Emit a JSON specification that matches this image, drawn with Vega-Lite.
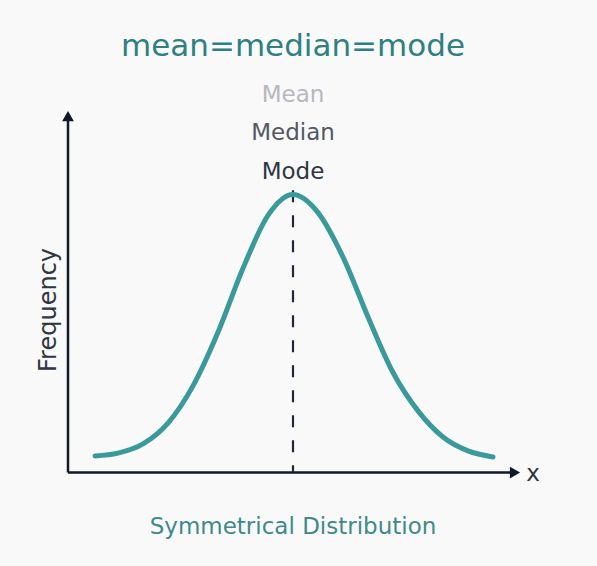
{
  "$schema": "https://vega.github.io/schema/vega-lite/v6.json",
  "width": 597,
  "height": 566,
  "autosize": {"type": "fit", "contains": "padding"},
  "padding": 0,
  "background": "#f9f9f9",
  "config": {"view": {"stroke": null}},
  "datasets": {
    "curve": [
      {"x": -3.96, "f": 0.06},
      {"x": -3.5, "f": 0.07},
      {"x": -3.0, "f": 0.103},
      {"x": -2.5, "f": 0.178},
      {"x": -2.0, "f": 0.312},
      {"x": -1.5, "f": 0.505},
      {"x": -1.0, "f": 0.735},
      {"x": -0.5, "f": 0.925},
      {"x": 0, "f": 1.0},
      {"x": 0.5, "f": 0.935},
      {"x": 1.0, "f": 0.775},
      {"x": 1.5, "f": 0.56},
      {"x": 2.0, "f": 0.36},
      {"x": 2.5, "f": 0.222},
      {"x": 3.0, "f": 0.128},
      {"x": 3.5, "f": 0.078},
      {"x": 4.0, "f": 0.056}
    ],
    "center": [{"x": 0, "top": 1.016, "bottom": 0}],
    "yaxis": [{"x": -4.5, "f": 0, "f2": 1.265}],
    "xaxis": [{"x": -4.5, "x2": 4.34, "f": 0}],
    "yarrow": [{"x": -4.5, "f": 1.282}],
    "xarrow": [{"x": 4.44, "f": 0}]
  },
  "layer": [
    {
      "data": {"name": "yaxis"},
      "mark": {"type": "rule", "color": "#111827", "strokeWidth": 2.5},
      "encoding": {
        "x": {"field": "x", "type": "quantitative", "scale": {"domain": [-5.86, 6.08], "nice": false, "zero": false}, "axis": null},
        "y": {"field": "f", "type": "quantitative", "scale": {"domain": [-0.336, 1.7], "nice": false, "zero": false}, "axis": null},
        "y2": {"field": "f2"}
      }
    },
    {
      "data": {"name": "xaxis"},
      "mark": {"type": "rule", "color": "#111827", "strokeWidth": 2.5},
      "encoding": {
        "x": {"field": "x", "type": "quantitative"},
        "x2": {"field": "x2"},
        "y": {"field": "f", "type": "quantitative"}
      }
    },
    {
      "data": {"name": "yarrow"},
      "mark": {"type": "point", "shape": "triangle-up", "filled": true, "color": "#111827", "size": 140, "opacity": 1},
      "encoding": {
        "x": {"field": "x", "type": "quantitative"},
        "y": {"field": "f", "type": "quantitative"}
      }
    },
    {
      "data": {"name": "xarrow"},
      "mark": {"type": "point", "shape": "triangle-right", "filled": true, "color": "#111827", "size": 140, "opacity": 1},
      "encoding": {
        "x": {"field": "x", "type": "quantitative"},
        "y": {"field": "f", "type": "quantitative"}
      }
    },
    {
      "data": {"name": "center"},
      "mark": {"type": "rule", "color": "#1f2937", "strokeWidth": 2.2, "strokeDash": [12, 13]},
      "encoding": {
        "x": {"field": "x", "type": "quantitative"},
        "y": {"field": "top", "type": "quantitative"},
        "y2": {"field": "bottom"}
      }
    },
    {
      "data": {"name": "curve"},
      "mark": {"type": "line", "color": "#3a9a9b", "strokeWidth": 5, "interpolate": "monotone", "strokeCap": "round"},
      "encoding": {
        "x": {"field": "x", "type": "quantitative"},
        "y": {"field": "f", "type": "quantitative"}
      }
    },
    {
      "data": {"values": [{"label": "mean=median=mode", "x": 0, "f": 1.53}]},
      "mark": {"type": "text", "font": "DejaVu Sans", "fontSize": 31, "color": "#2f8080", "baseline": "middle", "align": "center"},
      "encoding": {
        "x": {"field": "x", "type": "quantitative"},
        "y": {"field": "f", "type": "quantitative"},
        "text": {"field": "label"}
      }
    },
    {
      "data": {"values": [{"label": "Mean", "x": 0, "f": 1.358}]},
      "mark": {"type": "text", "font": "DejaVu Sans", "fontSize": 23, "color": "#b5b8bd", "baseline": "middle", "align": "center"},
      "encoding": {
        "x": {"field": "x", "type": "quantitative"},
        "y": {"field": "f", "type": "quantitative"},
        "text": {"field": "label"}
      }
    },
    {
      "data": {"values": [{"label": "Median", "x": 0, "f": 1.221}]},
      "mark": {"type": "text", "font": "DejaVu Sans", "fontSize": 23, "color": "#525866", "baseline": "middle", "align": "center"},
      "encoding": {
        "x": {"field": "x", "type": "quantitative"},
        "y": {"field": "f", "type": "quantitative"},
        "text": {"field": "label"}
      }
    },
    {
      "data": {"values": [{"label": "Mode", "x": 0, "f": 1.081}]},
      "mark": {"type": "text", "font": "DejaVu Sans", "fontSize": 23, "color": "#2f3541", "baseline": "middle", "align": "center"},
      "encoding": {
        "x": {"field": "x", "type": "quantitative"},
        "y": {"field": "f", "type": "quantitative"},
        "text": {"field": "label"}
      }
    },
    {
      "data": {"values": [{"label": "Symmetrical Distribution", "x": 0, "f": -0.196}]},
      "mark": {"type": "text", "font": "DejaVu Sans", "fontSize": 23, "color": "#3e8a8b", "baseline": "middle", "align": "center"},
      "encoding": {
        "x": {"field": "x", "type": "quantitative"},
        "y": {"field": "f", "type": "quantitative"},
        "text": {"field": "label"}
      }
    },
    {
      "data": {"values": [{"label": "Frequency", "x": -4.88, "f": 0.585}]},
      "mark": {"type": "text", "font": "DejaVu Sans", "fontSize": 24, "color": "#2f3541", "baseline": "middle", "align": "center", "angle": 270},
      "encoding": {
        "x": {"field": "x", "type": "quantitative"},
        "y": {"field": "f", "type": "quantitative"},
        "text": {"field": "label"}
      }
    },
    {
      "data": {"values": [{"label": "x", "x": 4.8, "f": -0.004}]},
      "mark": {"type": "text", "font": "DejaVu Sans", "fontSize": 23, "color": "#2f3541", "baseline": "middle", "align": "center"},
      "encoding": {
        "x": {"field": "x", "type": "quantitative"},
        "y": {"field": "f", "type": "quantitative"},
        "text": {"field": "label"}
      }
    }
  ]
}
